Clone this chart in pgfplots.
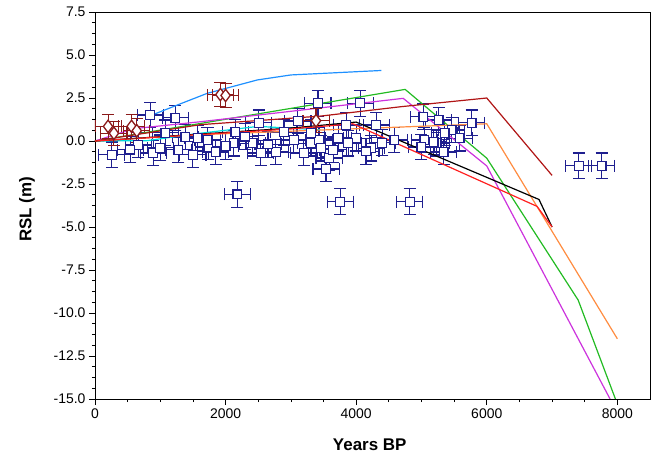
\documentclass[border=0pt]{standalone}
\usepackage{fontspec}
\setmainfont{Liberation Sans}
\usepackage{pgfplots}
\pgfplotsset{compat=1.18}
\definecolor{Navy}{HTML}{1F1F8F}
\definecolor{DRed}{HTML}{8B1A1A}
\definecolor{LBlue}{HTML}{1E90FF}
\definecolor{LGreen}{HTML}{22BB22}
\definecolor{LMag}{HTML}{CC33DD}
\definecolor{LDRed}{HTML}{B01515}
\definecolor{LOrange}{HTML}{FF8C40}
\definecolor{LRed}{HTML}{FF2020}
\definecolor{LCyan}{HTML}{00DDDD}

\pgfplotstableread{
x y
257 -0.81
2180 -3.1
3754 -3.53
4820 -3.53
7410 -1.45
7758 -1.45
5769 1.05
846 1.51
892 -0.70
662 -0.23
1231 1.34
1277 -0.52
1570 0.17
1738 -0.35
1385 0.23
1077 0.47
1723 0.06
1846 -0.64
2123 -0.12
2415 -0.12
2538 -0.7
2769 -0.64
3046 0.06
3108 1.16
2892 0.52
2150 0.52
3308 -0.12
2508 1.05
3415 2.2
4062 2.2
3431 0.06
3585 -0.99
3538 -1.63
3723 0.17
3846 0.93
4000 0.17
3877 -0.12
4231 -0.41
4308 0.93
4585 0.06
3646 -0.52
3462 -0.41
3308 0.47
5031 1.4
5262 1.22
5046 0.06
5231 -0.12
5338 -0.64
5462 0.64
5585 0.17
5354 0.47
5000 -0.35
5185 -0.06
540 -0.5
1000 -0.4
2000 -0.3
2650 -0.2
2300 0.25
4150 -0.6
3200 -0.7
4400 -0.1
1500 -0.8
}\bluepts

\pgfplotstableread{
x y
200 0.85
290 0.45
560 0.85
640 0.6
1920 2.7
2000 2.65
3385 1.18
}\redpts

\begin{document}
\begin{tikzpicture}
\begin{axis}[
 scale only axis, width=555bp, height=387bp,
 xmin=0, xmax=8500, ymin=-15, ymax=7.5,
 xtick={0,2000,4000,6000,8000},
 ytick={-15,-12.5,...,7.5},
 minor x tick num=3, minor y tick num=3,
 xtick pos=bottom, ytick pos=left,
 tick align=outside,
 major tick length=6bp, minor tick length=3bp,
 axis line style={line width=0.8bp},
 every tick/.style={black, line width=0.7bp},
 /pgf/number format/assume math mode=true,
 xticklabel style={font=\fontsize{14}{16}\selectfont, /pgf/number format/1000 sep={}},
 yticklabel style={font=\fontsize{14}{16}\selectfont, /pgf/number format/fixed, /pgf/number format/fixed zerofill, /pgf/number format/precision=1},
 scaled x ticks=false,
 xlabel={\textbf{Years BP}}, ylabel={\textbf{RSL (m)}},
 xlabel style={font=\fontsize{17}{20}\selectfont, at={(axis description cs:0.495,-0.118)}, anchor=center},
 ylabel style={font=\fontsize{17}{20}\selectfont, at={(axis description cs:-0.1225,0.49)}, anchor=center},
 error bars/error bar style={line width=1.1bp},
]
% blue observations
\addplot[only marks, mark=square*, mark size=4.4bp, color=Navy,
  mark options={fill=white, line width=1.2bp},
  error bars/.cd, x dir=both, x fixed=200, y dir=both, y fixed=0.75,
  error mark options={line width=1.1bp, mark size=6bp, rotate=90}]
  table[x=x,y=y] {\bluepts};
% model curves
\addplot[no marks, LCyan, line width=1.2bp] coordinates {(0,0) (800,0.02) (1500,0.4) (2500,0.85) (3450,0.65)};
\addplot[no marks, LBlue, line width=1.2bp] coordinates {(900,1.55) (1300,2.15) (1718,2.77) (2487,3.55) (3000,3.84) (4385,4.1)};
\addplot[no marks, LGreen, line width=1.2bp] coordinates {(0,0) (4750,3.0) (6000,-1.0) (7400,-9.25) (8050,-15.8)};
\addplot[no marks, LMag, line width=1.2bp] coordinates {(0,0) (600,0.72) (1615,1.12) (4720,2.48) (6000,-1.45) (8000,-15.8)};
\addplot[no marks, LDRed, line width=1.2bp] coordinates {(0,0) (1615,0.95) (3460,1.45) (4700,2.0) (6000,2.5) (7000,-2.0)};
\addplot[no marks, LOrange, line width=1.2bp] coordinates {(0,0) (1500,0.35) (3200,0.6) (6000,1.0) (8000,-11.5)};
\addplot[no marks, black, line width=1.2bp] coordinates {(0,0) (3000,0.75) (4000,1.1) (6800,-3.4) (7000,-5.0)};
\addplot[no marks, LRed, line width=1.2bp] coordinates {(0,0) (3000,0.7) (3950,1.0) (6770,-3.8) (7000,-5.0)};
% dark red observations
\addplot[only marks, mark=diamond*, mark size=6.2bp, color=DRed,
  mark options={fill=white, line width=1.3bp},
  error bars/.cd, x dir=both, x fixed=200, y dir=both, y fixed=0.7,
  error mark options={line width=1.1bp, mark size=6bp, rotate=90}]
  table[x=x,y=y] {\redpts};
\end{axis}
\path (current axis.south west) ++(-95bp,-66bp) rectangle ++(651bp,465bp);
\end{tikzpicture}
\end{document}
